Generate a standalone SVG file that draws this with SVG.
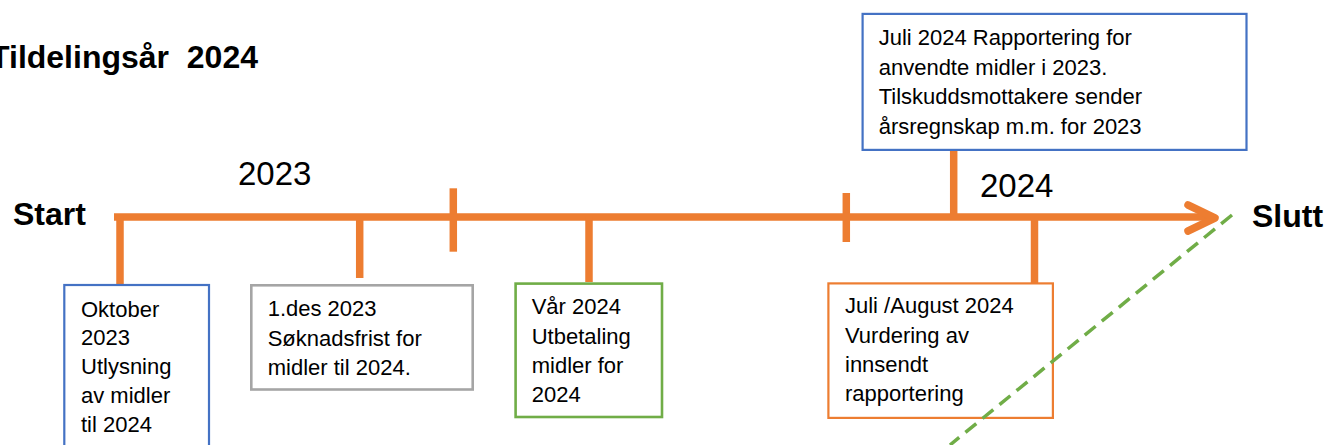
<svg xmlns="http://www.w3.org/2000/svg" width="1329" height="445" viewBox="0 0 1329 445">
<style>
.box{fill:#FFFFFF;stroke-width:2.2}
.blue{stroke:#4472C4}
.gray{stroke:#A5A5A5;stroke-width:2.6}
.green{stroke:#70AD47;stroke-width:2.6}
.orange{stroke:#ED7D31}
.t{font-family:"Liberation Sans",Arial,sans-serif;font-size:22px;fill:#000000}
.big{font-family:"Liberation Sans",Arial,sans-serif;font-size:33px;fill:#000000}
.bold{font-family:"Liberation Sans",Arial,sans-serif;font-size:32px;font-weight:bold;fill:#000000}
.ln{stroke:#ED7D31;stroke-width:7.5;fill:none}
</style>
<rect width="1329" height="445" fill="#FFFFFF"/>
<g id="labels">
<text class="bold" x="258" y="68" text-anchor="end" font-size="33" xml:space="preserve">Tildelingsår  2024</text>
<text class="bold" x="13" y="225">Start</text>
<text class="bold" x="1252" y="226.5">Slutt</text>
<text class="big" x="238" y="185">2023</text>
<text class="big" x="980" y="197">2024</text>
</g>
<g id="connectors">
<line class="ln" x1="114" y1="217" x2="1212" y2="217"/>
<polyline class="ln" points="1188,205 1215,218 1188,231" stroke-width="8" stroke-linecap="round" stroke-linejoin="round"/>
<line class="ln" x1="120" y1="217" x2="120" y2="284"/>
<line class="ln" x1="359.7" y1="217" x2="359.7" y2="278"/>
<line class="ln" x1="453.3" y1="188.3" x2="453.3" y2="251.7"/>
<line class="ln" x1="589" y1="217" x2="589" y2="282"/>
<line class="ln" x1="846.3" y1="193" x2="846.3" y2="242"/>
<line class="ln" x1="953.7" y1="151" x2="953.7" y2="217"/>
<line class="ln" x1="1034.5" y1="217" x2="1034.5" y2="283"/>
</g>
<g id="node-oktober">
<rect class="box blue" x="64.3" y="285" width="144.7" height="180"/>
<text class="t" x="81"><tspan x="81" y="316.5">Oktober</tspan><tspan x="81" y="345.4">2023</tspan><tspan x="81" y="374.3">Utlysning</tspan><tspan x="81" y="403.2">av midler</tspan><tspan x="81" y="432.1">til 2024</tspan></text>
</g>
<g id="node-soknadsfrist">
<rect class="box gray" x="251.3" y="285.3" width="221.4" height="104.2"/>
<text class="t"><tspan x="267.7" y="316">1.des 2023</tspan><tspan x="267.7" y="346">Søknadsfrist for</tspan><tspan x="267.7" y="375">midler til 2024.</tspan></text>
</g>
<g id="node-var">
<rect class="box green" x="515.6" y="283.6" width="146.4" height="133.4"/>
<text class="t"><tspan x="531.7" y="314">Vår 2024</tspan><tspan x="531.7" y="344">Utbetaling</tspan><tspan x="531.7" y="373.3">midler for</tspan><tspan x="531.7" y="402.3">2024</tspan></text>
</g>
<g id="node-vurdering">
<rect class="box orange" x="828.4" y="283.4" width="224.5" height="134.5"/>
<text class="t"><tspan x="845" y="313.3">Juli /August 2024</tspan><tspan x="845" y="342.6">Vurdering av</tspan><tspan x="845" y="371.9">innsendt</tspan><tspan x="845" y="401.2">rapportering</tspan></text>
</g>
<g id="node-rapportering">
<rect class="box blue" x="862.6" y="13.9" width="383.9" height="136"/>
<text class="t"><tspan x="878.7" y="45">Juli 2024 Rapportering for</tspan><tspan x="878.7" y="74.7">anvendte midler i 2023.</tspan><tspan x="878.7" y="104.4">Tilskuddsmottakere sender</tspan><tspan x="878.7" y="134">årsregnskap m.m. for 2023</tspan></text>
</g>
<g id="dashed-line">
<line x1="1232" y1="215" x2="950" y2="445" stroke="#70AD47" stroke-width="3.5" stroke-dasharray="14 8" fill="none"/>
</g>
</svg>
